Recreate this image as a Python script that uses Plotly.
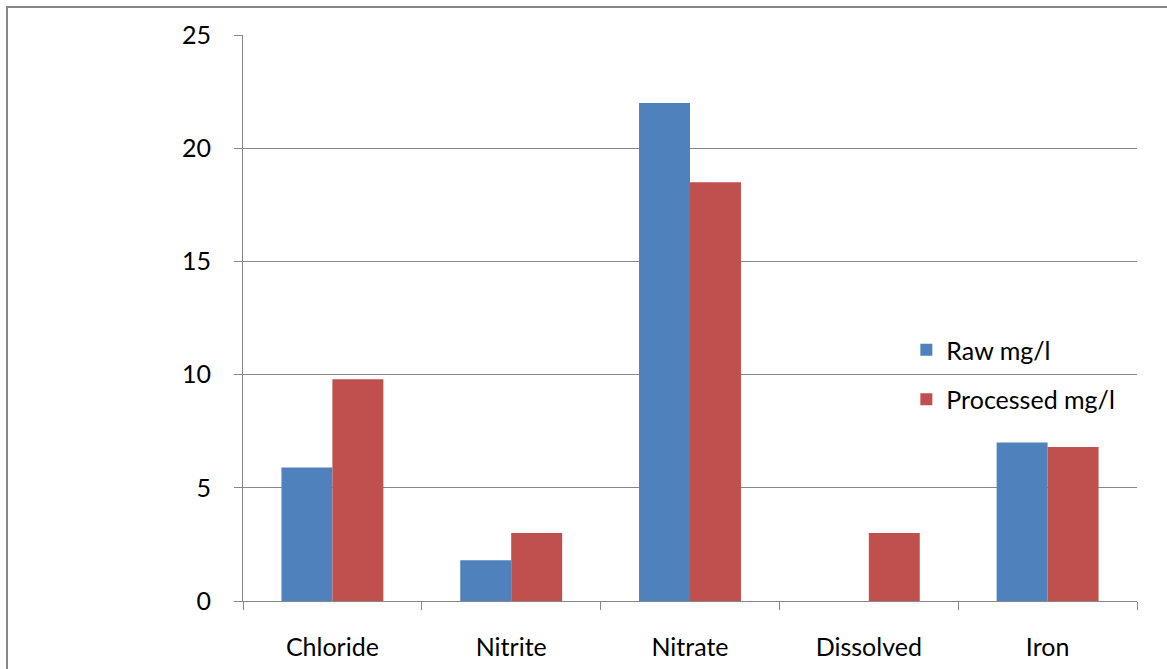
import plotly.graph_objects as go

categories = ["Chloride", "Nitrite", "Nitrate", "Dissolved", "Iron"]
raw_mg_l = [5.9, 1.8, 22.0, 0, 7.0]
processed_mg_l = [9.8, 3.0, 18.5, 3.0, 6.8]
y_ticks = [0, 5, 10, 15, 20, 25]

FONT = "Lato, 'Open Sans', sans-serif"
GRID = "#878787"

fig = go.Figure()
fig.add_trace(go.Bar(name="Raw mg/l", x=categories, y=raw_mg_l,
                     marker=dict(color="#4F81BD", line=dict(width=0)),
                     legendgroup="a"))
fig.add_trace(go.Bar(name="Processed mg/l", x=categories, y=processed_mg_l,
                     marker=dict(color="#C0504D", line=dict(width=0)),
                     legendgroup="b"))

fig.update_layout(
    width=1167, height=669,
    margin=dict(l=243, r=30, t=35, b=68),
    paper_bgcolor="white", plot_bgcolor="white",
    barmode="group", bargap=0.43, bargroupgap=0,
    font=dict(family=FONT, size=25, color="black"),
    showlegend=True,
    legend=dict(x=0.742, y=0.40, xanchor="left", yanchor="middle",
                bgcolor="rgba(0,0,0,0)", traceorder="grouped",
                tracegroupgap=14, font=dict(size=25), itemwidth=30),
    xaxis=dict(showline=True, linecolor=GRID, linewidth=1,
               ticks="outside", ticklen=8, tickcolor=GRID,
               tickson="boundaries", showgrid=False,
               ticklabelstandoff=24, automargin=False),
    yaxis=dict(range=[0, 25], tickvals=y_ticks, showline=True,
               linecolor=GRID, linewidth=1, showgrid=True,
               gridcolor=GRID, gridwidth=1, ticks="outside", ticklen=8,
               tickcolor=GRID, zeroline=False, ticklabelstandoff=18,
               automargin=False),
)

# outer chart frame
fig.add_shape(type="rect", xref="paper", yref="paper",
              x0=-236 / 894, x1=1.2, y0=-0.3, y1=1 + 28 / 566,
              line=dict(color=GRID, width=2), layer="below")

fig.write_html("out.html")
